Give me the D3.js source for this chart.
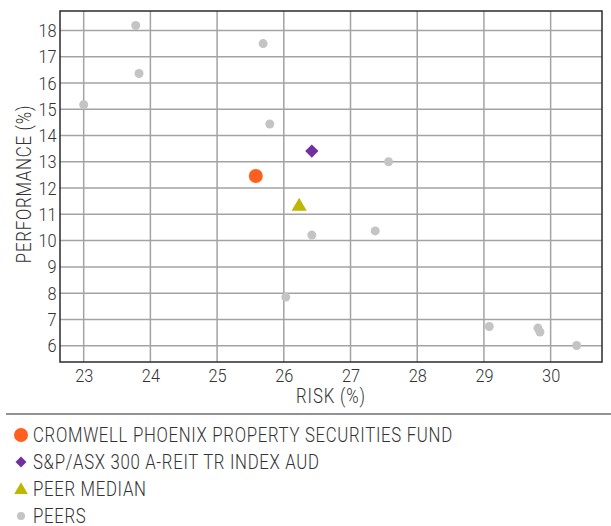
<!DOCTYPE html>
<html>
<head>
<meta charset="utf-8">
<script src="https://cdn.jsdelivr.net/npm/d3@7"></script>
<style>
  html, body { margin: 0; padding: 0; background: #fff; }
  svg { display: block; }
  text { font-family: Roboto, "Noto Sans", sans-serif; font-weight: 300; fill: #333; }
</style>
</head>
<body>
<svg id="chart" width="611" height="526"></svg>
<script>
// Risk / return scatter (percent values)
const peerRisk = [23.78, 25.69, 23.83, 23.00, 25.79, 27.57, 26.42, 27.37, 26.03, 29.08, 29.81, 29.84, 30.39];
const peerPerf = [18.19, 17.50, 16.36, 15.17, 14.44, 13.00, 10.21, 10.37, 7.85, 6.73, 6.67, 6.52, 6.01];

const seriesNames = [
  "CROMWELL PHOENIX PROPERTY SECURITIES FUND",
  "S&P/ASX 300 A-REIT TR INDEX AUD",
  "PEER MEDIAN",
  "PEERS"
];
const seriesRisk = [25.58, 26.42, 26.23];
const seriesPerf = [12.46, 13.41, 11.30];

const xTicks = [23, 24, 25, 26, 27, 28, 29, 30];
const yTicks = [6, 7, 8, 9, 10, 11, 12, 13, 14, 15, 16, 17, 18];

const colors = { fund: "#ff5f1f", index: "#7030a0", median: "#bcb700", peer: "#c4c4c4" };

// narrow lettering: squeeze glyphs horizontally around their anchor
const squeeze = 0.86;

const svg = d3.select("#chart");
const plot = { left: 60, right: 602, top: 11, bottom: 362 };

const x = d3.scaleLinear().domain([22.645, 30.77]).range([plot.left, plot.right]);
const y = d3.scaleLinear().domain([5.38, 18.74]).range([plot.bottom, plot.top]);

// grid
const grid = svg.append("g");
grid.selectAll("line.v").data(xTicks).join("line")
  .attr("x1", d => x(d)).attr("x2", d => x(d))
  .attr("y1", plot.top).attr("y2", plot.bottom)
  .attr("stroke", "#a3a3a3").attr("stroke-width", 1.5);
grid.selectAll("line.h").data(yTicks).join("line")
  .attr("x1", plot.left).attr("x2", plot.right)
  .attr("y1", d => y(d)).attr("y2", d => y(d))
  .attr("stroke", "#a3a3a3").attr("stroke-width", 1.5);

// axes (labels only, ticks hidden)
const xAxis = svg.append("g")
  .attr("transform", `translate(0,${plot.bottom})`)
  .call(d3.axisBottom(x).tickValues(xTicks).tickSize(0).tickPadding(7).tickFormat(d3.format("d")));
xAxis.select(".domain").remove();
xAxis.selectAll("text").attr("font-size", 19).attr("fill", "#333")
  .attr("font-family", null)
  .attr("transform", `scale(${squeeze},1)`);

const yAxis = svg.append("g")
  .attr("transform", `translate(${plot.left},0)`)
  .call(d3.axisLeft(y).tickValues(yTicks).tickSize(0).tickPadding(4).tickFormat(d3.format("d")));
yAxis.select(".domain").remove();
yAxis.selectAll("text").attr("font-size", 19).attr("fill", "#333")
  .attr("font-family", null)
  .attr("transform", `scale(${squeeze},1)`);

// frame
svg.append("rect")
  .attr("x", plot.left).attr("y", plot.top)
  .attr("width", plot.right - plot.left).attr("height", plot.bottom - plot.top)
  .attr("fill", "none").attr("stroke", "#2b2b2b").attr("stroke-width", 1.5);

// axis titles
svg.append("text")
  .attr("transform", `translate(${(plot.left + plot.right) / 2},403) scale(${squeeze},1)`)
  .attr("text-anchor", "middle").attr("font-size", 19.5)
  .attr("letter-spacing", 1.0)
  .text("RISK (%)");
svg.append("text")
  .attr("transform", `translate(31,184) rotate(-90) scale(${squeeze},1)`)
  .attr("text-anchor", "middle").attr("font-size", 19.5)
  .attr("letter-spacing", 0.9)
  .text("PERFORMANCE (%)");

// peers
svg.append("g").selectAll("circle").data(peerRisk.map((r, i) => [r, peerPerf[i]])).join("circle")
  .attr("cx", d => x(d[0])).attr("cy", d => y(d[1]))
  .attr("r", 4.5).attr("fill", colors.peer);

// highlighted series
const fund = [seriesRisk[0], seriesPerf[0]];
const index = [seriesRisk[1], seriesPerf[1]];
const median = [seriesRisk[2], seriesPerf[2]];

svg.append("circle")
  .attr("cx", x(fund[0])).attr("cy", y(fund[1]))
  .attr("r", 7).attr("fill", colors.fund);

svg.append("path")
  .attr("d", d3.symbol(d3.symbolSquare, 88)())
  .attr("transform", `translate(${x(index[0])},${y(index[1])}) rotate(45)`)
  .attr("fill", colors.index);

svg.append("path")
  .attr("d", d3.symbol(d3.symbolTriangle, 100)())
  .attr("transform", `translate(${x(median[0])},${y(median[1])})`)
  .attr("fill", colors.median);

// legend
svg.append("line")
  .attr("x1", 6).attr("x2", 611).attr("y1", 414).attr("y2", 414)
  .attr("stroke", "#6e6e6e").attr("stroke-width", 1.5);

const legendY = [435, 462, 489, 516];
const lg = svg.append("g");
lg.append("circle").attr("cx", 21).attr("cy", legendY[0]).attr("r", 7).attr("fill", colors.fund);
lg.append("path").attr("d", d3.symbol(d3.symbolSquare, 60)())
  .attr("transform", `translate(21,${legendY[1]}) rotate(45)`).attr("fill", colors.index);
lg.append("path").attr("d", d3.symbol(d3.symbolTriangle, 80)())
  .attr("transform", `translate(21,${legendY[2] + 1})`).attr("fill", colors.median);
lg.append("circle").attr("cx", 21).attr("cy", legendY[3]).attr("r", 4).attr("fill", colors.peer);

lg.selectAll("text").data(seriesNames).join("text")
  .attr("transform", (d, i) => `translate(33,${legendY[i]}) scale(${squeeze},1)`)
  .attr("dy", "0.36em").attr("font-size", 19.5)
  .attr("letter-spacing", 0.8)
  .text(d => d);
</script>
</body>
</html>
